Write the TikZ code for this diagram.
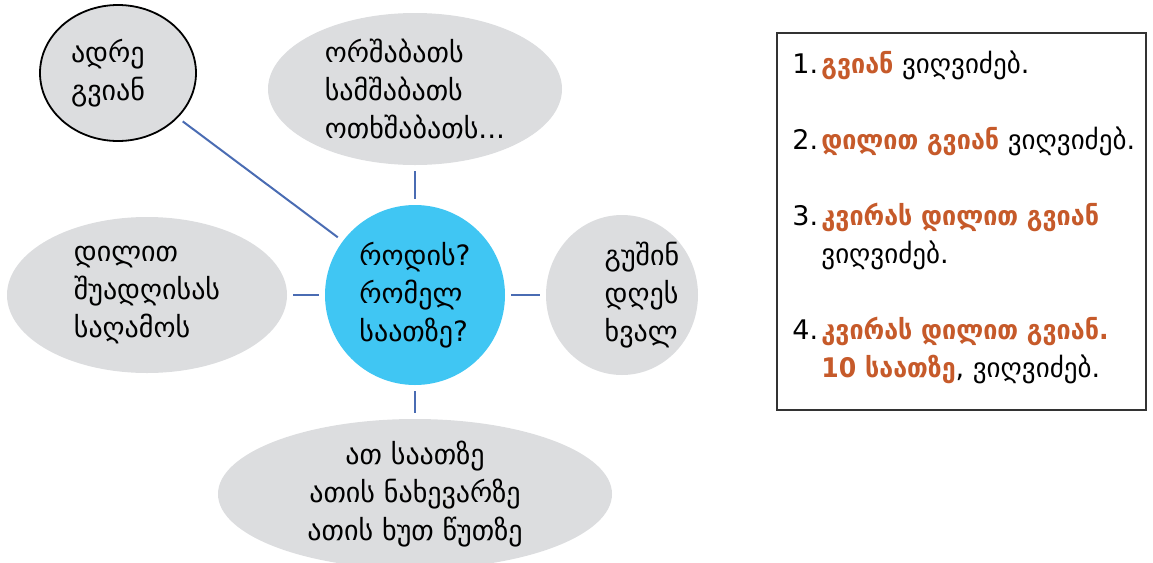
\documentclass[tikz,border=0pt]{standalone}
\usepackage{fontspec}
\setmainfont{DejaVu Sans}[BoldFeatures={FakeStretch=0.93}]
\usetikzlibrary{shapes.geometric}
\definecolor{bubblegray}{HTML}{DCDDDF}
\definecolor{askblue}{HTML}{40C6F3}
\definecolor{linkblue}{HTML}{4A6CB3}
\definecolor{accent}{HTML}{C65A2A}
\newcommand{\stepno}[1]{\makebox[14.5pt][l]{#1}}
\newcommand{\hot}[1]{{\bfseries\color{accent}#1}}

\begin{document}
\begin{tikzpicture}[x=0.5pt, y=-0.5pt,
  every node/.style = {font=\fontsize{14}{19}\selectfont},
  bubble/.style = {ellipse, fill=bubblegray, inner sep=0pt, align=left},
  link/.style = {draw=linkblue, line width=1pt, shorten <=3pt, shorten >=3pt}]
  \useasboundingbox (0,0) rectangle (1153,563);
  \node[circle, fill=askblue, minimum size=90pt, inner sep=0pt, align=left]
    (ask) at (415,295) {როდის?\\რომელ\\საათზე?};
  \node[bubble, draw=black, line width=0.9pt, minimum width=78pt, minimum height=68pt,
    label={[xshift=-5pt, align=left]center:ადრე\\გვიან}]
    (early) at (118,73) {};
  \node[bubble, minimum width=147pt, minimum height=76pt]
    (weekdays) at (415,89) {ორშაბათს\\სამშაბათს\\ოთხშაბათს...};
  \node[bubble, minimum width=140pt, minimum height=78pt]
    (daytime) at (147,295) {დილით\\შუადღისას\\საღამოს};
  \node[bubble, minimum width=76pt, minimum height=80pt,
    label={[xshift=10pt, align=left]center:გუშინ\\დღეს\\ხვალ}]
    (days) at (622,295) {};
  \node[bubble, align=center, minimum width=197pt, minimum height=72pt]
    (clock) at (415,494) {ათ საათზე\\ათის ნახევარზე\\ათის ხუთ წუთზე};
  \path[link] (ask) -- (early);
  \path[link] (ask) -- (weekdays);
  \path[link] (ask) -- (daytime);
  \path[link] (ask) -- (days);
  \path[link] (ask) -- (clock);
  % examples
  \node[draw=black!80, line width=1pt, minimum width=184.5pt, minimum height=188.5pt]
    (frame) at (961.5,221.5) {};
  \node[anchor=west, align=left, inner sep=0pt, font=\fontsize{13.5}{19}\selectfont]
    (steps) at ([xshift=8pt, yshift=2pt]frame.west) {%
    \stepno{1.}\hot{გვიან} ვიღვიძებ.\\[19pt]
    \stepno{2.}\hot{დილით გვიან} ვიღვიძებ.\\[19pt]
    \stepno{3.}\hot{კვირას დილით გვიან}\\
    \stepno{}ვიღვიძებ.\\[19pt]
    \stepno{4.}\hot{კვირას დილით გვიან.}\\
    \stepno{}\hot{10 საათზე}, ვიღვიძებ.};
\end{tikzpicture}
\end{document}
